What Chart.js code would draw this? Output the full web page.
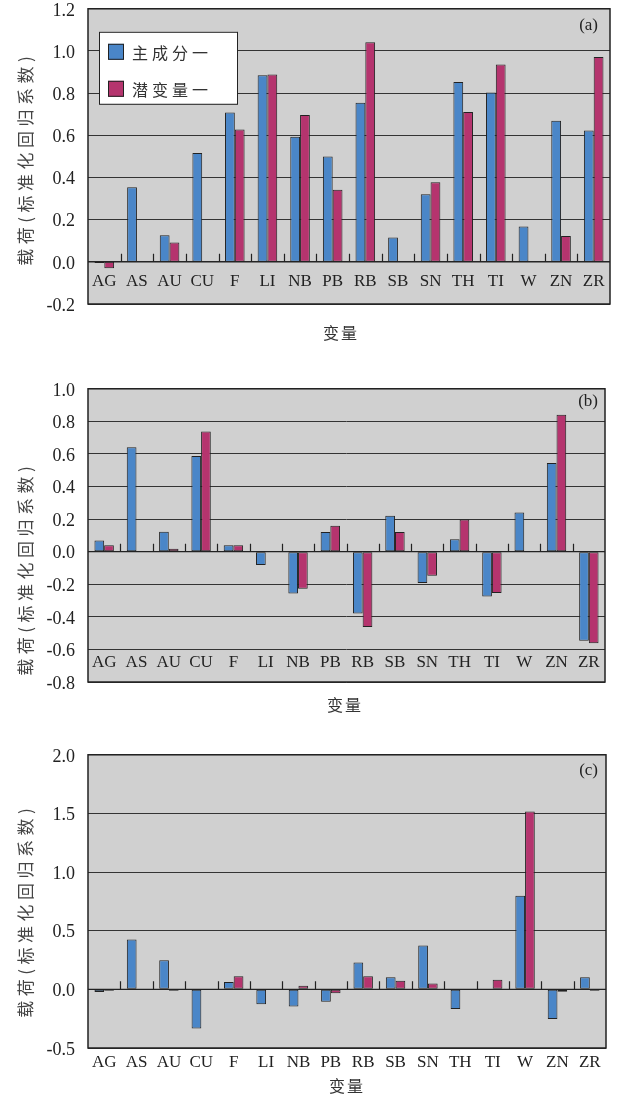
<!DOCTYPE html>
<html>
<head>
<meta charset="utf-8">
<script src="https://cdn.jsdelivr.net/npm/chart.js@4.4.0/dist/chart.umd.min.js"></script>
<style>
  html, body { margin: 0; padding: 0; background: #fff; width: 618px; height: 1097px; overflow: hidden; position: relative; }
  canvas { position: absolute; left: 0; }
</style>
</head>
<body>
<canvas id="chartA" width="618" height="369" style="top:-15px"></canvas>
<canvas id="chartB" width="618" height="367" style="top:365px"></canvas>
<canvas id="chartC" width="618" height="367" style="top:731px"></canvas>
<script>
// data
const categories = ['AG', 'AS', 'AU', 'CU', 'F', 'LI', 'NB', 'PB', 'RB', 'SB', 'SN', 'TH', 'TI', 'W', 'ZN', 'ZR'];
const seriesNames = ['主成分一', '潜变量一'];

// (a)
const pcA = [-0.006, 0.354, 0.126, 0.516, 0.708, 0.885, 0.593, 0.499, 0.755, 0.115, 0.320, 0.853, 0.803, 0.167, 0.669, 0.623];
const lvA = [-0.030, null, 0.092, null, 0.627, 0.889, 0.696, 0.342, 1.041, null, 0.377, 0.710, 0.936, null, 0.122, 0.972];
// (b)
const pcB = [0.069, 0.641, 0.123, 0.587, 0.040, -0.081, -0.256, 0.121, -0.380, 0.220, -0.192, 0.077, -0.275, 0.241, 0.544, -0.546];
const lvB = [0.040, null, 0.018, 0.738, 0.040, null, -0.228, 0.160, -0.463, 0.121, -0.148, 0.198, -0.253, null, 0.841, -0.562];
// (c)
const pcC = [-0.022, 0.426, 0.249, -0.333, 0.062, -0.126, -0.146, -0.106, 0.230, 0.104, 0.375, -0.168, null, 0.798, -0.252, 0.104];
const lvC = [-0.011, null, -0.011, null, 0.112, null, 0.031, -0.034, 0.112, 0.073, 0.050, null, 0.081, 1.517, -0.020, -0.011];

const BLUE = '#4a86c8';
const MAGENTA = '#b5346e';
const SERIF = '"Liberation Serif", "DejaVu Serif", serif';
const CJK = '"Noto Sans CJK SC", "Noto Sans", sans-serif';

// decoration plugin: background, frame, category labels, titles, legend
const panelDecor = {
    id: 'panelDecor',
    beforeDraw(chart, args, opts) {
        const { ctx, chartArea: a } = chart;
        ctx.save();
        ctx.fillStyle = '#d0d0d0';
        ctx.fillRect(a.left, a.top, a.right - a.left, a.bottom - a.top);
        ctx.restore();
    },
    afterDraw(chart, args, opts) {
        const { ctx, chartArea: a } = chart;
        const xs = chart.scales.x;
        const ys = chart.scales.y;
        ctx.save();

        // frame
        ctx.strokeStyle = '#222';
        ctx.lineWidth = 1.5;
        ctx.strokeRect(a.left, a.top, a.right - a.left, a.bottom - a.top);

        // zero line + small tick marks between categories
        const y0 = ys.getPixelForValue(0);
        ctx.lineWidth = 1.2;
        ctx.strokeStyle = '#222';
        ctx.beginPath();
        ctx.moveTo(a.left, y0);
        ctx.lineTo(a.right, y0);
        for (let i = 1; i < categories.length; i++) {
            const x = Math.round((xs.getPixelForTick(i - 1) + xs.getPixelForTick(i)) / 2) + 0.5;
            ctx.moveTo(x, y0);
            ctx.lineTo(x, y0 - 8);
        }
        ctx.stroke();

        // category labels
        ctx.fillStyle = '#222';
        ctx.font = '17px ' + SERIF;
        ctx.textAlign = 'center';
        ctx.textBaseline = 'middle';
        const ly = a.bottom + opts.labelOffset;
        categories.forEach((c, i) => {
            ctx.fillText(c, xs.getPixelForTick(i), ly);
        });

        // panel letter
        ctx.textAlign = 'right';
        ctx.font = '17px ' + SERIF;
        ctx.fillText(opts.letter, 598, a.top + opts.letterOffset);

        // x title
        ctx.fillStyle = '#333';
        ctx.font = '16px ' + CJK;
        ctx.letterSpacing = '2px';
        ctx.textAlign = 'center';
        ctx.fillText('变量', opts.xTitleX, a.bottom + opts.xTitleOffset);

        // y title
        ctx.save();
        ctx.translate(26, a.top + opts.yTitleOffset);
        ctx.rotate(-Math.PI / 2);
        ctx.font = '17px ' + CJK;
        ctx.fillStyle = '#444';
        ctx.letterSpacing = '4.5px';
        ctx.fillText('载荷(标准化回归系数)', 0, 0);
        ctx.restore();

        // legend
        if (opts.legend) {
            const bx = a.left + 11, by = a.top + 23;
            ctx.letterSpacing = '0px';
            ctx.fillStyle = '#fff';
            ctx.fillRect(bx, by, 138, 72);
            ctx.strokeStyle = '#222';
            ctx.lineWidth = 1;
            ctx.strokeRect(bx + 0.5, by + 0.5, 138, 72);
            chart.data.datasets.forEach((ds, i) => {
                const sy = by + 12 + i * 37;
                ctx.fillStyle = ds.backgroundColor;
                ctx.fillRect(bx + 9, sy, 16, 16);
                ctx.strokeStyle = '#222';
                ctx.strokeRect(bx + 9.5, sy + 0.5, 15, 15);
                ctx.fillStyle = '#333';
                ctx.font = '16px ' + CJK;
                ctx.letterSpacing = '4px';
                ctx.textAlign = 'left';
                ctx.fillText(ds.label, bx + 33, sy + 9);
            });
        }
        ctx.restore();
    }
};

function makeChart(id, pc, lv, yMin, yMax, step, padRight, decor) {
    const makeSet = (label, values, color) => ({
        label,
        data: values,
        backgroundColor: color,
        borderColor: '#222',
        borderWidth: 1,
        borderSkipped: false,
        categoryPercentage: 0.6,
        barPercentage: 1.0
    });
    return new Chart(document.getElementById(id), {
        type: 'bar',
        data: {
            labels: categories,
            datasets: [
                makeSet(seriesNames[0], pc, BLUE),
                makeSet(seriesNames[1], lv, MAGENTA)
            ]
        },
        options: {
            responsive: false,
            animation: false,
            layout: { padding: { top: 20, bottom: 50, left: 0, right: padRight } },
            plugins: {
                legend: { display: false },
                tooltip: { enabled: false },
                panelDecor: decor
            },
            scales: {
                x: { display: false, offset: true },
                y: {
                    min: yMin,
                    max: yMax,
                    afterFit: (s) => { s.width = 88; },
                    border: { display: false },
                    grid: { color: '#333', lineWidth: 1, drawTicks: false },
                    ticks: {
                        stepSize: step,
                        padding: 13,
                        labelOffset: 2,
                        color: '#222',
                        font: { family: SERIF, size: 18 },
                        callback: (v) => (Math.abs(v) < 1e-9 ? 0 : v).toFixed(1)
                    }
                }
            }
        },
        plugins: [panelDecor]
    });
}

makeChart('chartA', pcA, lvA, -0.2, 1.2, 0.2, 8,
    { letter: '(a)', letterOffset: 17, labelOffset: -22, xTitleX: 341, xTitleOffset: 29, yTitleOffset: 150, legend: true });
makeChart('chartB', pcB, lvB, -0.8, 1.0, 0.2, 13,
    { letter: '(b)', letterOffset: 13, labelOffset: -19, xTitleX: 345, xTitleOffset: 23, yTitleOffset: 180, legend: false });
makeChart('chartC', pcC, lvC, -0.5, 2.0, 0.5, 12,
    { letter: '(c)', letterOffset: 16, labelOffset: 15, xTitleX: 347, xTitleOffset: 38, yTitleOffset: 156, legend: false });
</script>
</body>
</html>
